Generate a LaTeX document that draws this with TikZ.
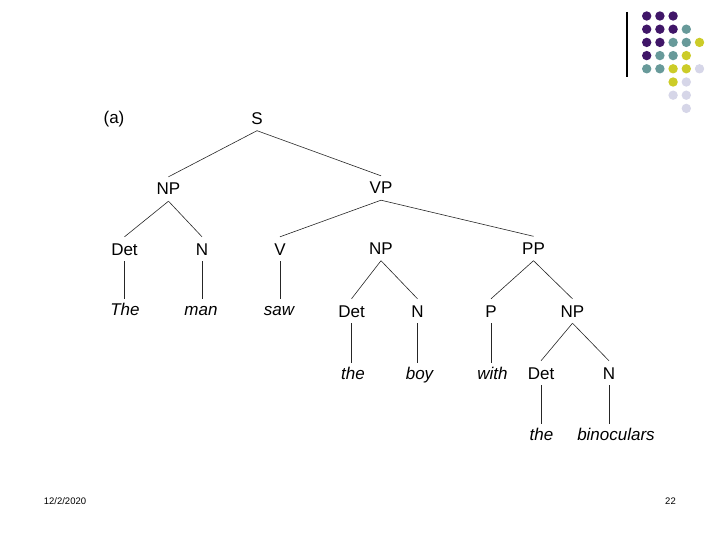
\documentclass[tikz,border=0pt]{standalone}
\usepackage{fontspec}
\setmainfont{Liberation Sans}
\definecolor{dotpurple}{RGB}{64,22,104}
\definecolor{dotteal}{RGB}{104,154,154}
\definecolor{dotyellow}{RGB}{204,204,40}
\definecolor{dotlilac}{RGB}{214,214,232}

\begin{document}
\begin{tikzpicture}[x=1pt,y=-1pt,
  cat/.style={inner xsep=1pt,inner ysep=6pt,text height=12pt,text depth=0pt,font=\fontsize{17}{18}\selectfont},
  word/.style={cat,inner ysep=4pt,font=\fontsize{17}{18}\selectfont\itshape},
  branch/.style={line width=0.6pt,draw=black!85},
  footer/.style={font=\fontsize{9.5}{11}\selectfont}]
  \useasboundingbox (0,0) rectangle (720,540);
  % corner decoration
  \draw[line width=1.2pt] (627,12) -- (627,77);
  \foreach \c/\r in {0/0,1/0,2/0,0/1,1/1,2/1,0/2,1/2,0/3}
    \fill[dotpurple] (646.7+13.2*\c,16+13.2*\r) circle (4.7pt);
  \foreach \c/\r in {3/1,2/2,3/2,1/3,2/3,0/4,1/4}
    \fill[dotteal] (646.7+13.2*\c,16+13.2*\r) circle (4.7pt);
  \foreach \c/\r in {4/2,3/3,2/4,3/4,2/5}
    \fill[dotyellow] (646.7+13.2*\c,16+13.2*\r) circle (4.7pt);
  \foreach \c/\r in {4/4,3/5,2/6,3/6,3/7}
    \fill[dotlilac] (646.7+13.2*\c,16+13.2*\r) circle (4.7pt);

  % tree
  \node[cat] (tag) at (114,118) {(a)};
  \node[cat] (s) at (257,118.5) {S};
  \node[cat] (np1) at (168.5,189) {NP};
  \node[cat] (vp) at (381,188) {VP};
  \node[cat] (det1) at (124.5,249) {Det};
  \node[cat] (n1) at (202,249) {N};
  \node[cat] (v) at (280,249) {V};
  \node[cat] (np2) at (381,248.5) {NP};
  \node[cat] (pp) at (533.5,248.5) {PP};
  \node[word] (the1) at (125,309) {The};
  \node[word] (man) at (201,309) {man};
  \node[word] (saw) at (279,309) {saw};
  \node[cat] (det2) at (351.5,311) {Det};
  \node[cat] (n2) at (417.5,311) {N};
  \node[cat] (p) at (491,311) {P};
  \node[cat] (np3) at (572.5,311) {NP};
  \node[word] (the2) at (353,373) {the};
  \node[word] (boy) at (419.5,373) {boy};
  \node[word] (with) at (492.5,373) {with};
  \node[cat] (det3) at (541,373) {Det};
  \node[cat] (n3) at (609,373) {N};
  \node[word] (the3) at (541.5,434) {the};
  \node[word] (binoculars) at (616,434) {binoculars};

  \foreach \a/\b in {s/np1,s/vp,np1/det1,np1/n1,vp/v,vp/pp,
      np2/det2,np2/n2,pp/p,pp/np3,np3/det3,np3/n3}
    \draw[branch] (\a.south) -- (\b.north);
  % leaves hang straight down
  \foreach \a/\b in {det1/the1,n1/man,v/saw,det2/the2,n2/boy,p/with,
      det3/the3,n3/binoculars}
    \draw[branch] (\a.south) -- (\a.south |- \b.north);

  % footer
  \node[footer] (date) at (65,501) {12/2/2020};
  \node[footer] (pagenum) at (670.5,501) {22};
\end{tikzpicture}
\end{document}
